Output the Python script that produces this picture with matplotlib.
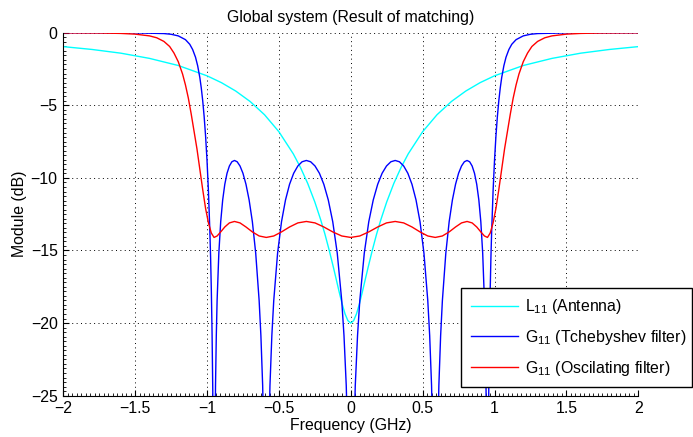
import matplotlib
matplotlib.use("Agg")
import matplotlib.pyplot as plt
from matplotlib.ticker import MultipleLocator, AutoMinorLocator
import numpy as np

plt.rcParams["font.family"] = ["Liberation Sans", "DejaVu Sans"]
plt.rcParams["mathtext.fontset"] = "custom"
plt.rcParams["mathtext.rm"] = "Liberation Sans"
plt.rcParams["font.size"] = 11.4

# ------------------- L11 : antenna alone -------------------
f_ant = [-2.0, -1.8, -1.6, -1.4, -1.2, -1.0, -0.9, -0.8, -0.7, -0.6, -0.5,
         -0.4, -0.35, -0.3, -0.25, -0.21, -0.18, -0.15, -0.12, -0.1, -0.08,
         -0.06, -0.04, -0.02, 0.0, 0.02, 0.04, 0.06, 0.08, 0.1, 0.12, 0.15,
         0.18, 0.21, 0.25, 0.3, 0.35, 0.4, 0.5, 0.6, 0.7, 0.8, 0.9, 1.0, 1.2,
         1.4, 1.6, 1.8, 2.0]
L11_ant = [-0.96, -1.155, -1.41, -1.77, -2.26, -2.97, -3.44, -4.02, -4.74,
           -5.65, -6.82, -8.34, -9.28, -10.37, -11.66, -12.86, -13.86, -14.98,
           -16.19, -17.03, -17.88, -18.68, -19.36, -19.83, -20.0, -19.83,
           -19.36, -18.68, -17.88, -17.03, -16.19, -14.98, -13.86, -12.86,
           -11.66, -10.37, -9.28, -8.34, -6.82, -5.65, -4.74, -4.02, -3.44,
           -2.97, -2.26, -1.77, -1.41, -1.155, -0.96]

# ------------------- G11 : Tchebyshev filter -------------------
f_tch = [-2.0, -1.5, -1.3, -1.25, -1.2, -1.15, -1.12, -1.1, -1.08, -1.065,
         -1.05, -1.04, -1.03, -1.02, -1.01, -1.0, -0.995, -0.99, -0.98, -0.975,
         -0.97, -0.965, -0.96, -0.955, -0.9511, -0.9461, -0.9409, -0.9354,
         -0.9298, -0.9178, -0.9048, -0.891, -0.8763, -0.8607, -0.8443, -0.8271,
         -0.809, -0.7902, -0.7705, -0.7501, -0.729, -0.7071, -0.6845, -0.6613,
         -0.6374, -0.6252, -0.6129, -0.6004, -0.5878, -0.575, -0.5621, -0.549,
         -0.5358, -0.509, -0.4818, -0.454, -0.4258, -0.3971, -0.3681, -0.3387,
         -0.309, -0.279, -0.2487, -0.2181, -0.1874, -0.1564, -0.1253, -0.0941,
         -0.0628, -0.0471, -0.0314, -0.0157, 0.0, 0.0157, 0.0314, 0.0471,
         0.0628, 0.0941, 0.1253, 0.1564, 0.1874, 0.2181, 0.2487, 0.279, 0.309,
         0.3387, 0.3681, 0.3971, 0.4258, 0.454, 0.4818, 0.509, 0.5358, 0.549,
         0.5621, 0.575, 0.5878, 0.6004, 0.6129, 0.6252, 0.6374, 0.6613, 0.6845,
         0.7071, 0.729, 0.7501, 0.7705, 0.7902, 0.809, 0.8271, 0.8443, 0.8607,
         0.8763, 0.891, 0.9048, 0.9178, 0.9298, 0.9354, 0.9409, 0.9461, 0.9511,
         0.955, 0.96, 0.965, 0.97, 0.975, 0.98, 0.99, 0.995, 1.0, 1.01, 1.02,
         1.03, 1.04, 1.05, 1.065, 1.08, 1.1, 1.12, 1.15, 1.2, 1.25, 1.3, 1.5, 2.0]
G11_tch = [0.0, -0.01, -0.06, -0.109, -0.22, -0.48, -0.8, -1.16, -1.69, -2.28,
           -3.09, -3.8, -4.68, -5.77, -7.11, -8.8, -9.8, -10.93, -13.75, -15.5,
           -17.72, -20.6, -24.6, -32.0, -45.0, -30.3, -24.3, -20.86, -18.45,
           -15.18, -13.02, -11.52, -10.44, -9.68, -9.18, -8.89, -8.8, -8.89,
           -9.18, -9.68, -10.44, -11.52, -13.02, -15.18, -18.45, -20.86, -24.3,
           -30.3, -45.0, -30.3, -24.3, -20.86, -18.45, -15.18, -13.02, -11.52,
           -10.44, -9.68, -9.18, -8.89, -8.8, -8.89, -9.18, -9.68, -10.44,
           -11.52, -13.02, -15.18, -18.45, -20.86, -24.3, -30.3, -45.0, -30.3,
           -24.3, -20.86, -18.45, -15.18, -13.02, -11.52, -10.44, -9.68, -9.18,
           -8.89, -8.8, -8.89, -9.18, -9.68, -10.44, -11.52, -13.02, -15.18,
           -18.45, -20.86, -24.3, -30.3, -45.0, -30.3, -24.3, -20.86, -18.45,
           -15.18, -13.02, -11.52, -10.44, -9.68, -9.18, -8.89, -8.8, -8.89,
           -9.18, -9.68, -10.44, -11.52, -13.02, -15.18, -18.45, -20.86, -24.3,
           -30.3, -45.0, -32.0, -24.6, -20.6, -17.72, -15.5, -13.75, -10.93,
           -9.8, -8.8, -7.11, -5.77, -4.68, -3.8, -3.09, -2.28, -1.69, -1.16,
           -0.8, -0.48, -0.22, -0.109, -0.06, -0.01, 0.0]

# ------------------- G11 : oscillating filter -------------------
f_osc = [-2.0, -1.75, -1.6, -1.5, -1.4, -1.35, -1.3, -1.26, -1.23, -1.2,
         -1.17, -1.15, -1.13, -1.11, -1.09, -1.07, -1.05, -1.03, -1.01, -0.99,
         -0.97, -0.9511, -0.9298, -0.9048, -0.8763, -0.8443, -0.809, -0.7705,
         -0.729, -0.6845, -0.6374, -0.5878, -0.5358, -0.4818, -0.4258, -0.3681,
         -0.309, -0.2487, -0.1874, -0.1253, -0.0628, 0.0, 0.0628, 0.1253,
         0.1874, 0.2487, 0.309, 0.3681, 0.4258, 0.4818, 0.5358, 0.5878, 0.6374,
         0.6845, 0.729, 0.7705, 0.809, 0.8443, 0.8763, 0.9048, 0.9298, 0.9511,
         0.97, 0.99, 1.01, 1.03, 1.05, 1.07, 1.09, 1.11, 1.13, 1.15, 1.17, 1.2,
         1.23, 1.26, 1.3, 1.35, 1.4, 1.5, 1.6, 1.75, 2.0]
G11_osc = [-0.01, -0.02, -0.05, -0.1, -0.22, -0.35, -0.6, -0.95, -1.4, -2.0,
           -2.85, -3.6, -4.5, -5.6, -6.8, -8.0, -9.4, -10.8, -12.1, -13.1,
           -13.8, -14.1, -14.0, -13.72, -13.38, -13.1, -13.0, -13.1, -13.38,
           -13.72, -14.0, -14.1, -14.0, -13.72, -13.38, -13.1, -13.0, -13.1,
           -13.38, -13.72, -14.0, -14.1, -14.0, -13.72, -13.38, -13.1, -13.0,
           -13.1, -13.38, -13.72, -14.0, -14.1, -14.0, -13.72, -13.38, -13.1,
           -13.0, -13.1, -13.38, -13.72, -14.0, -14.1, -13.8, -13.1, -12.1,
           -10.8, -9.4, -8.0, -6.8, -5.6, -4.5, -3.6, -2.85, -2.0, -1.4, -0.95,
           -0.6, -0.35, -0.22, -0.1, -0.05, -0.02, -0.01]

fig = plt.figure(figsize=(6.93, 4.37), dpi=100)
ax = fig.add_axes([0.0913, 0.0945, 0.8297, 0.8307])

ax.plot(f_ant, L11_ant, color=(0, 1, 1), lw=1.0,
        label=r"$\mathregular{L_{11}}$ (Antenna)")
ax.plot(f_tch, G11_tch, color=(0, 0, 1), lw=1.0,
        label=r"$\mathregular{G_{11}}$ (Tchebyshev filter)")
ax.plot(f_osc, G11_osc, color=(1, 0, 0), lw=1.0,
        label=r"$\mathregular{G_{11}}$ (Oscilating filter)")

ax.set_xlim(-2, 2)
ax.set_ylim(-25, 0)
ax.yaxis.set_major_locator(MultipleLocator(5))
ax.xaxis.set_minor_locator(AutoMinorLocator(16))
ax.yaxis.set_minor_locator(AutoMinorLocator(16))
ax.set_xticks(np.arange(-2, 2.01, 0.5))
ax.set_xticklabels(["\u22122", "\u22121.5", "\u22121", "\u22120.5", "0",
                    "0.5", "1", "1.5", "2"])
ax.tick_params(which="major", direction="in", length=4, width=0.8,
               top=False, right=False, labelsize=11.4, pad=4)
ax.tick_params(which="minor", direction="in", length=2, width=0.6,
               top=False, right=False)
ax.spines["top"].set_visible(False)
ax.spines["right"].set_visible(False)
ax.grid(True, which="major", color="black", linestyle=(0, (1, 3.5)), lw=0.7)

ax.set_title("Global system (Result of matching)", fontsize=11.4, pad=8)
ax.set_xlabel("Frequency (GHz)", fontsize=11.4, labelpad=1)
ax.set_ylabel("Module (dB)", fontsize=11.4, labelpad=3)

leg = ax.legend(loc="upper left", mode="expand",
                bbox_to_anchor=(461 / 693, 1 - 292 / 437, 231 / 693, 0.01),
                bbox_transform=fig.transFigure, fancybox=False,
                framealpha=1, edgecolor="black", handlelength=3.0,
                handletextpad=0.45, labelspacing=0.75, borderpad=0.6,
                fontsize=11.4, borderaxespad=0)
leg.get_frame().set_linewidth(1.0)

fig.savefig("out.png", dpi=100)
